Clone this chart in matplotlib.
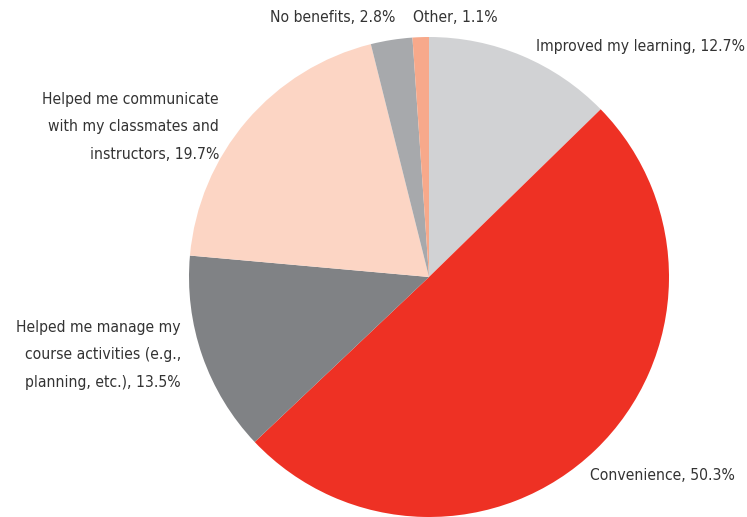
import matplotlib.pyplot as plt
from matplotlib import font_manager

# slice data, clockwise from 12 o'clock
labels = ["Improved my learning", "Convenience",
          "Helped me manage my\ncourse activities (e.g.,\nplanning, etc.)",
          "Helped me communicate\nwith my classmates and\ninstructors",
          "No benefits", "Other"]
values = [12.7, 50.3, 13.5, 19.7, 2.8, 1.1]
colors = ["#d1d2d4", "#ee3124", "#808285", "#fcd5c4", "#a7a9ac", "#f7a98b"]

# look for a narrow font, the original uses a condensed sans
fam = 'Roboto'
stretch = 'normal'
for f in font_manager.fontManager.ttflist:
    if 'Narrow' in f.name or 'Condensed' in f.name:
        fam = f.name
        break
    if f.stretch in ('condensed', 'semi-condensed', 500) and 'Sans' in f.name and f.stretch != 'normal':
        fam = f.name
        stretch = f.stretch
        break
plt.rcParams['font.family'] = [fam, 'DejaVu Sans']

W, H = 747, 517
fig = plt.figure(figsize=(W / 100, H / 100), dpi=100)
ax = fig.add_axes([0, 0, 1, 1])

ax.pie(values, colors=colors, startangle=90, counterclock=False,
       center=(429, H - 277), radius=240, frame=True,
       wedgeprops=dict(linewidth=0))
ax.set_xlim(0, W)
ax.set_ylim(0, H)
ax.set_aspect('equal')
ax.axis('off')

# pick a font size so the widest single-line label is ~208 px like the original
r = fig.canvas.get_renderer()
t = ax.text(0, 0, "Improved my learning, 12.7%", fontsize=12, fontstretch=stretch)
wpx = t.get_window_extent(r).width
t.remove()
fs = min(12 * 208 / wpx, 13)

# label placement (pixel coords from top-left), alignment
lab_pos = [(745, 46, 'right'), (735, 476, 'right'), (181, 355, 'right'),
           (219, 127, 'right'), (395, 18, 'right'), (413, 18, 'left')]
tc = "#333333"
for lab, v, (x, y, ha) in zip(labels, values, lab_pos):
    ax.text(x, H - y, f"{lab}, {v}%", ha=ha, va='center', fontsize=fs,
            color=tc, linespacing=2.05, multialignment='right',
            fontstretch=stretch)

fig.savefig("out.png", dpi=100)
